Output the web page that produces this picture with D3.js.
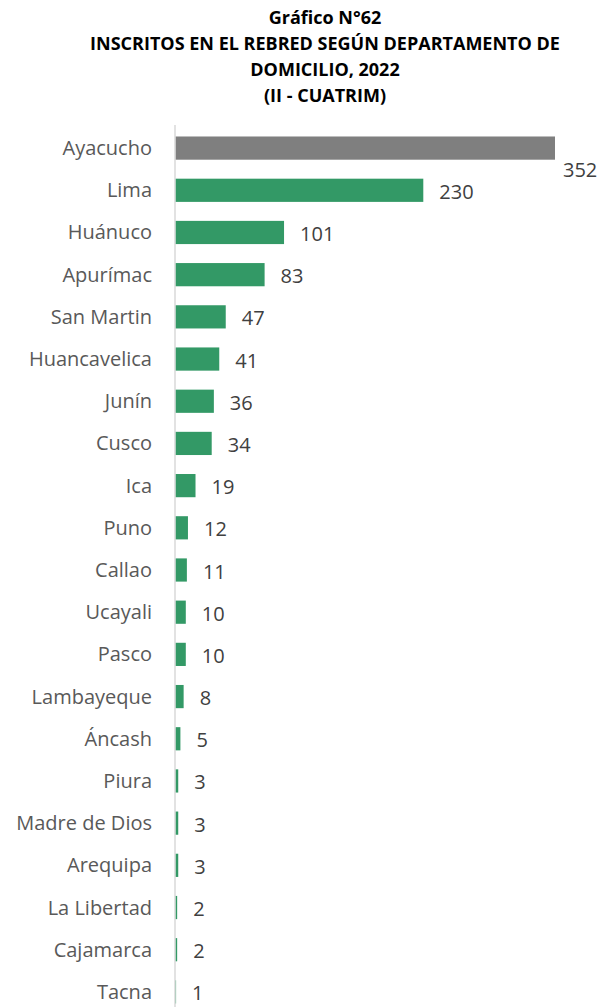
<!DOCTYPE html>
<html><head><meta charset="utf-8">
<script src="https://cdn.jsdelivr.net/npm/d3@7"></script>
<style>body{margin:0;background:#fff}svg{display:block}</style>
</head><body>
<script>
const categories = ["Ayacucho","Lima","Huánuco","Apurímac","San Martin","Huancavelica","Junín","Cusco","Ica","Puno","Callao","Ucayali","Pasco","Lambayeque","Áncash","Piura","Madre de Dios","Arequipa","La Libertad","Cajamarca","Tacna"];
const values = [352,230,101,83,47,41,36,34,19,12,11,10,10,8,5,3,3,3,2,2,1];
const titleLines = ["Gráfico N°62","INSCRITOS EN EL REBRED SEGÚN DEPARTAMENTO DE","DOMICILIO, 2022","(II - CUATRIM)"];

const W = 601, H = 1007;
const svg = d3.select("body").append("svg").attr("width", W).attr("height", H);
const font = "'Open Sans', sans-serif";

svg.selectAll("text.title").data(titleLines).join("text")
  .attr("class","title")
  .attr("x", 325).attr("y", (d,i) => 23.5 + i*26.3)
  .attr("text-anchor","middle")
  .attr("font-family", font).attr("font-weight","bold").attr("font-size", 18)
  .attr("fill","#000").text(d => d);

const x0 = 175;
const x = d3.scaleLinear().domain([0, 352]).range([x0, 555]);
const y = d3.scaleBand().domain(categories).range([127, 1013]).paddingInner(0.45).paddingOuter(0.225);

svg.append("line").attr("x1", x0).attr("x2", x0).attr("y1", 125).attr("y2", H)
  .attr("stroke","#d9d9d9").attr("stroke-width",1.5);

const data = categories.map((c,i) => ({c, v: values[i]}));

svg.selectAll("rect.bar").data(data).join("rect")
  .attr("class","bar")
  .attr("x", x0 + 0.75).attr("y", d => y(d.c))
  .attr("width", d => Math.max(0, x(d.v) - x0 - 0.75))
  .attr("height", y.bandwidth())
  .attr("fill", (d,i) => i === 0 ? "#7f7f7f" : "#339966");

svg.selectAll("text.cat").data(data).join("text")
  .attr("class","cat")
  .attr("x", 152).attr("y", d => y(d.c) + y.bandwidth()/2)
  .attr("dy","0.35em").attr("text-anchor","end")
  .attr("font-family", font).attr("font-size", 20).attr("fill","#595959")
  .text(d => d.c);

svg.selectAll("text.val").data(data).join("text")
  .attr("class","val")
  .attr("x", (d,i) => i === 0 ? x(d.v) + 8 : x(d.v) + 16)
  .attr("y", (d,i) => y(d.c) + y.bandwidth()/2 + (i === 0 ? 22 : 1.5))
  .attr("dy","0.35em").attr("text-anchor","start")
  .attr("font-family", font).attr("font-size", 20).attr("fill","#404040")
  .text(d => d.v);
</script>
</body></html>
